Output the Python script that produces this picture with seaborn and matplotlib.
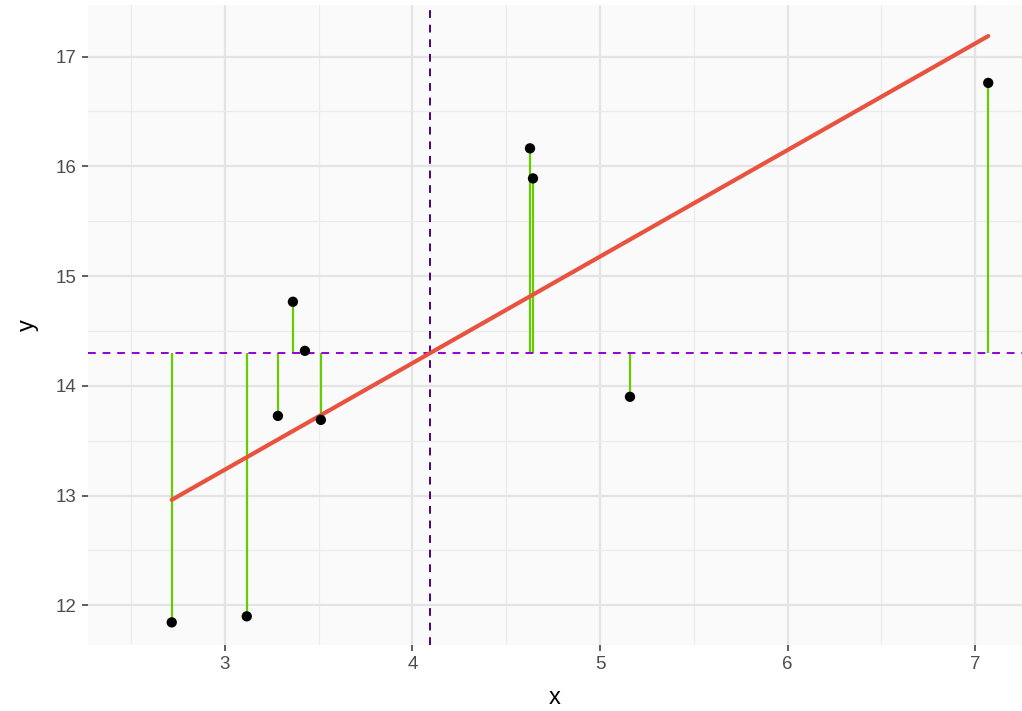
import numpy as np
import pandas as pd
import matplotlib
matplotlib.use("Agg")
import matplotlib.pyplot as plt
import seaborn as sns
from matplotlib.ticker import MultipleLocator

# Data
x_vals = [2.717, 3.117, 3.283, 3.363, 3.427, 3.512, 4.627, 4.643, 5.160, 7.070]
y_vals = [11.845, 11.900, 13.726, 14.766, 14.319, 13.690, 16.164, 15.890, 13.900, 16.760]

data = pd.DataFrame({"x": x_vals, "y": y_vals})
x_mean = data["x"].mean()
y_mean = data["y"].mean()

# Style
sns.set_theme(style="whitegrid")
plt.rcParams["font.family"] = ["Liberation Sans", "DejaVu Sans"]

fig, ax = plt.subplots(figsize=(10.22, 7.11), dpi=100)
fig.subplots_adjust(left=0.086, right=1.0, bottom=0.093, top=0.993)
ax.set_facecolor("#FAFAFA")

# deviations from mean y
ax.vlines(data["x"], y_mean, data["y"], color="#66CC00", linewidth=1.6, zorder=2)

# mean lines
ax.axhline(y_mean, color="#9400D3", linestyle=(0, (4, 3.5)), linewidth=1.4, zorder=3)
ax.axvline(x_mean, color="#4B0082", linestyle=(0, (4, 3.5)), linewidth=1.4, zorder=3)

# regression line
sns.regplot(x="x", y="y", data=data, ci=None, scatter=False, ax=ax,
            line_kws={"color": "#E8523F", "linewidth": 3, "zorder": 4})

# points
sns.scatterplot(x="x", y="y", data=data, ax=ax, color="black", s=55,
                edgecolor="none", zorder=5)

ax.set_xlim(2.27, 7.25)
ax.set_ylim(11.64, 17.47)
ax.xaxis.set_major_locator(MultipleLocator(1))
ax.xaxis.set_minor_locator(MultipleLocator(0.5))
ax.yaxis.set_major_locator(MultipleLocator(1))
ax.yaxis.set_minor_locator(MultipleLocator(0.5))
ax.grid(which="major", color="#E4E4E4", linewidth=1.6)
ax.grid(which="minor", color="#EBEBEB", linewidth=0.9)
ax.set_axisbelow(True)
for s in ax.spines.values():
    s.set_visible(False)

ax.tick_params(axis="both", which="major", bottom=True, left=True, length=4,
               width=1.1, color="#333333", labelsize=13.5, labelcolor="#4D4D4D", pad=4)
ax.tick_params(axis="both", which="minor", length=0)
ax.set_xlabel("x", fontsize=17, color="black", labelpad=10)
ax.set_ylabel("y", fontsize=17, color="black", labelpad=12)

plt.savefig("out.png", dpi=100)
